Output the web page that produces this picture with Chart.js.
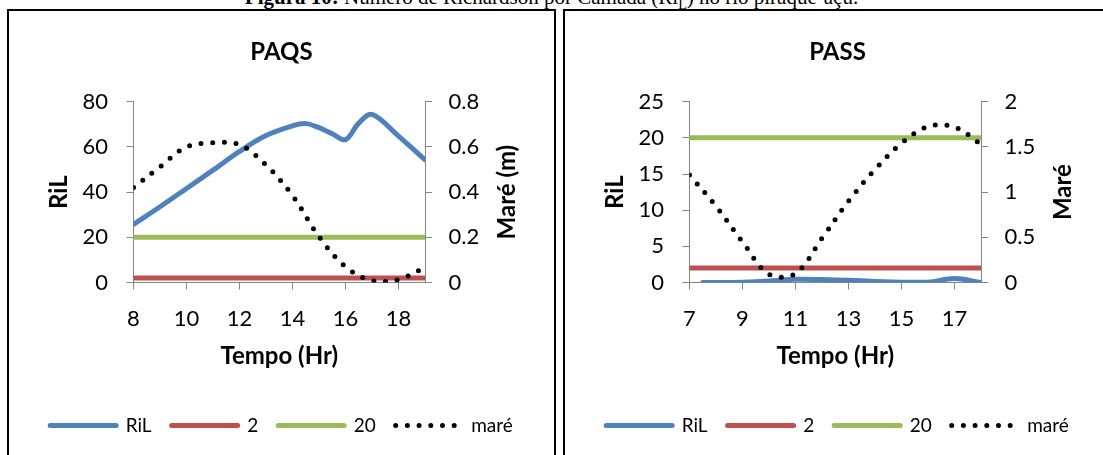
<!DOCTYPE html>
<html>
<head>
<meta charset="utf-8">
<script src="https://cdn.jsdelivr.net/npm/chart.js@4.4.0/dist/chart.umd.min.js"></script>
<style>
  body { margin: 0; background: #fff; width: 1103px; height: 455px; overflow: hidden; position: relative; }
  #caption { position: absolute; left: 0; top: -13px; width: 1103px; text-align: center; font: 21px "Liberation Serif"; line-height: 21px; white-space: nowrap; }
  .frame { position: absolute; top: 9px; width: 545px; height: 460px; border: 2px solid #000; }
  #frame-paqs { left: 7px; }
  #frame-pass { left: 563px; }
  canvas { display: block; }
</style>
</head>
<body>
<div id="caption"><b>Figura 10:</b> Número de Richardson por Camada (Ri<sub style="font-size:14px">L</sub>) no rio piraquê-açú.</div>
<div class="frame" id="frame-paqs"><canvas id="paqs" width="545" height="444"></canvas></div>
<div class="frame" id="frame-pass"><canvas id="pass" width="545" height="444"></canvas></div>
<script>
// PAQS
const paqsHoras = [8, 9, 10, 11, 12, 13, 14, 15, 16, 17, 18, 19]
const paqsHorasRiL = [8, 9, 10, 11, 12, 13, 14, 14.5, 15, 15.5, 16, 16.5, 17, 18, 19]
const paqsRiL = [25.7, 33.5, 41.6, 49.7, 58, 65, 69.3, 70.3, 68.5, 65.8, 63.2, 70.5, 74.4, 64.8, 54.3]
const paqsDois = [2, 2, 2, 2, 2, 2, 2, 2, 2, 2, 2, 2]
const paqsVinte = [20, 20, 20, 20, 20, 20, 20, 20, 20, 20, 20, 20]
const paqsMare = [0.42, 0.512, 0.6, 0.618, 0.61, 0.52, 0.385, 0.203, 0.07, 0.008, 0.013, 0.066]

// PASS
const passHorasRiL = [7.5, 8, 9, 10, 11, 12, 13, 14, 15, 16, 17, 18]
const passRiL = [0, 0, 0.05, 0.2, 0.45, 0.4, 0.3, 0.15, 0.05, 0.05, 0.55, 0]
const passHoras = [7, 8, 9, 10, 11, 12, 13, 14, 15, 16, 17, 18]
const passDois = [2, 2, 2, 2, 2, 2, 2, 2, 2, 2, 2, 2]
const passVinte = [20, 20, 20, 20, 20, 20, 20, 20, 20, 20, 20, 20]
const passMare = [1.19, 0.845, 0.45, 0.09, 0.1, 0.49, 0.9, 1.25, 1.54, 1.725, 1.72, 1.53]

const legendLabels = ['RiL', '2', '20', 'maré']

const FONT = 'Lato'
const AXIS = '#868686'

function pts(xs, ys) {
  return xs.map((x, i) => ({ x: x, y: ys[i] }))
}

// right axis title reads bottom-to-top in the original, chart.js rotates it the other way
const rightTitle = {
  id: 'rightTitle',
  afterDraw(chart, args, opts) {
    const s = chart.scales.y2
    const ctx = chart.ctx
    ctx.save()
    ctx.translate(s.right - 47, (s.top + s.bottom) / 2)
    ctx.rotate(-Math.PI / 2)
    ctx.font = 'bold 24px ' + FONT
    ctx.fillStyle = '#000'
    ctx.textAlign = 'center'
    ctx.textBaseline = 'middle'
    ctx.fillText(opts.text, 0, 0)
    ctx.restore()
  }
}

// legend samples should look like the lines (dash, width), not like the points
function legendItems(chart) {
  return Chart.defaults.plugins.legend.labels.generateLabels(chart).map((item) => {
    const ds = chart.data.datasets[item.datasetIndex]
    return Object.assign(item, {
      lineDash: ds.borderDash || [],
      lineCap: 'round',
      lineWidth: ds.borderWidth,
      strokeStyle: ds.borderColor,
      fillStyle: ds.borderColor
    })
  })
}

function makeChart(id, title, xs, xsRiL, ril, dois, vinte, mare, xMin, xMax, yMax, yStep, y2Max, y2Step, y2Title) {
  return new Chart(document.getElementById(id), {
    type: 'line',
    data: {
      datasets: [
        { label: legendLabels[0], data: pts(xsRiL, ril), borderColor: '#4F81BD', borderWidth: 5, tension: 0.35, order: 4, yAxisID: 'y' },
        { label: legendLabels[1], data: pts(xs, dois), borderColor: '#C0504D', borderWidth: 5, order: 3, yAxisID: 'y' },
        { label: legendLabels[2], data: pts(xs, vinte), borderColor: '#9BBB59', borderWidth: 5, order: 2, yAxisID: 'y' },
        { label: legendLabels[3], data: pts(xs, mare), borderColor: '#000', borderWidth: 5, borderDash: [0, 11.7], tension: 0.35, order: 1, yAxisID: 'y2' }
      ].map((d) => Object.assign({ pointRadius: 0, pointHoverRadius: 0, fill: false, borderCapStyle: 'round', backgroundColor: d.borderColor }, d))
    },
    options: {
      responsive: false,
      animation: false,
      events: [],
      layout: { padding: { left: 0, right: 0, top: 0, bottom: 10 } },
      plugins: {
        title: {
          display: true,
          text: title,
          color: '#000',
          font: { family: FONT, size: 24, weight: 'bold' },
          padding: { top: 26.6, bottom: 35.3 }
        },
        legend: {
          position: 'bottom',
          labels: {
            usePointStyle: true,
            pointStyle: 'line',
            pointStyleWidth: 66,
            padding: 20,
            color: '#000',
            font: { family: FONT, size: 19 },
            generateLabels: legendItems,
            sort: (a, b) => a.datasetIndex - b.datasetIndex
          }
        },
        tooltip: { enabled: false },
        rightTitle: { text: y2Title }
      },
      scales: {
        x: {
          type: 'linear',
          min: xMin,
          max: xMax,
          bounds: 'data',
          afterFit: (s) => { s.height = 113.5 },
          afterBuildTicks: (s) => { s.ticks = s.ticks.filter((t) => (t.value - xMin) % 2 === 0) },
          ticks: { stepSize: 2, padding: 15.8, color: '#000', font: { family: FONT, size: 22 } },
          grid: { drawOnChartArea: false, tickLength: 7, color: AXIS },
          border: { color: AXIS },
          title: { display: true, text: 'Tempo (Hr)', color: '#000', font: { family: FONT, size: 24, weight: 'bold' }, padding: { top: 0, bottom: 25 } }
        },
        y: {
          position: 'left',
          min: 0,
          max: yMax,
          afterFit: (s) => { s.width = 124.5 },
          ticks: { stepSize: yStep, padding: 18.5, color: '#000', font: { family: FONT, size: 22 } },
          grid: { drawOnChartArea: false, tickLength: 7, color: AXIS },
          border: { color: AXIS },
          title: { display: true, text: 'RiL', color: '#000', font: { family: FONT, size: 24, weight: 'bold' }, padding: { top: 35.6, bottom: 0 } }
        },
        y2: {
          position: 'right',
          min: 0,
          max: y2Max,
          afterFit: (s) => { s.width = 129 },
          ticks: { stepSize: y2Step, padding: 16.5, color: '#000', font: { family: FONT, size: 22 }, callback: (v) => String(Math.round(v * 10) / 10) },
          grid: { drawOnChartArea: false, tickLength: 7, color: AXIS },
          border: { color: AXIS }
        }
      }
    },
    plugins: [rightTitle]
  })
}

makeChart('paqs', 'PAQS', paqsHoras, paqsHorasRiL, paqsRiL, paqsDois, paqsVinte, paqsMare, 8, 19, 80, 20, 0.8, 0.2, 'Maré (m)')
makeChart('pass', 'PASS', passHoras, passHorasRiL, passRiL, passDois, passVinte, passMare, 7, 18, 25, 5, 2, 0.5, 'Maré')
</script>
</body>
</html>
